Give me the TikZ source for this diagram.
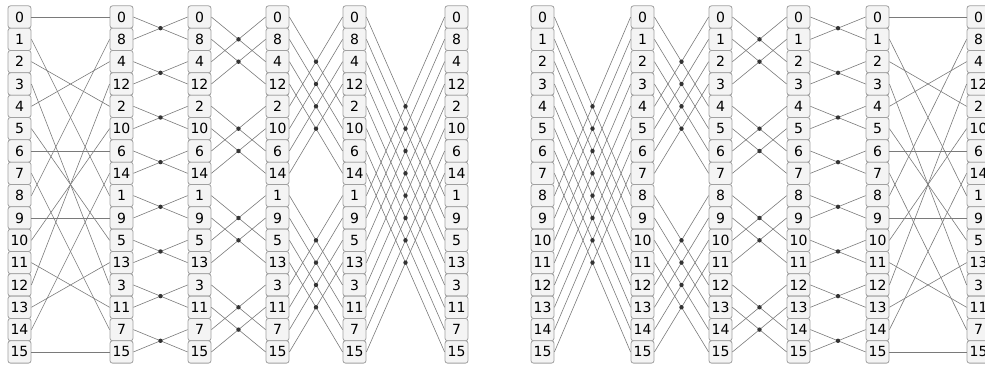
\documentclass[tikz,border=0pt]{standalone}
\usepackage{fontspec}
\setmainfont{DejaVu Sans}
\usepackage{tikz}
\usetikzlibrary{calc}
\definecolor{cellbg}{HTML}{F4F4F4}
\definecolor{cellrim}{HTML}{A0A0A0}
\definecolor{wire}{HTML}{7A7A7A}
\definecolor{joint}{HTML}{333333}
\tikzset{cell/.style={draw=cellrim,line width=0.8pt,fill=cellbg,rounded corners=2.5pt,minimum width=23pt,minimum height=22.33pt,inner sep=0pt,font=\fontsize{14}{15}\selectfont},
  link/.style={wire,line width=0.6pt}, jnt/.style={fill=joint}}
% a column of 16 cells: name, x, labels
\newcommand{\stack}[3]{\foreach \lab [count=\rw from 0] in {#3} {\node[cell] (#1-\rw) at (#2,17+22.33*\rw) {\lab};}}
% bit reversal wiring
\newcommand{\swap}[2]{\foreach \i/\j in {0/0,1/8,2/4,3/12,4/2,5/10,6/6,7/14,8/1,9/9,10/5,11/13,12/3,13/11,14/7,15/15}
  {\draw[link] (#1-\i.east) -- (#2-\j.west);}}
% butterflies of span #3
\newcommand{\bfly}[3]{\pgfmathtruncatemacro{\nb}{8/#3}\pgfmathtruncatemacro{\dm}{#3-1}
  \foreach \blk in {1,...,\nb} {\foreach \kk in {0,...,\dm} {
    \pgfmathtruncatemacro{\ra}{(\blk-1)*2*#3+\kk}\pgfmathtruncatemacro{\rb}{\ra+#3}
    \draw[link] (#1-\ra.east) -- (#2-\rb.west);
    \draw[link] (#1-\rb.east) -- (#2-\ra.west);
    \fill[jnt] ($(#1-\ra.east)!0.5!(#2-\rb.west)$) circle (2.2pt);}}}

\begin{document}
\begin{tikzpicture}[x=1pt,y=-1pt]
\useasboundingbox (0,0) rectangle (985,365);
% left: reorder, then butterflies
\stack{L1}{19.5}{0,...,15}
\stack{L2}{121.5}{0,8,4,12,2,10,6,14,1,9,5,13,3,11,7,15}
\stack{L3}{199.5}{0,8,4,12,2,10,6,14,1,9,5,13,3,11,7,15}
\stack{L4}{277.5}{0,8,4,12,2,10,6,14,1,9,5,13,3,11,7,15}
\stack{L5}{354.5}{0,8,4,12,2,10,6,14,1,9,5,13,3,11,7,15}
\stack{L6}{456.5}{0,8,4,12,2,10,6,14,1,9,5,13,3,11,7,15}
\swap{L1}{L2}
\bfly{L2}{L3}{1} \bfly{L3}{L4}{2} \bfly{L4}{L5}{4} \bfly{L5}{L6}{8}
% right: butterflies, then reorder
\stack{R1}{542.5}{0,...,15}
\stack{R2}{642.5}{0,...,15}
\stack{R3}{720.5}{0,...,15}
\stack{R4}{798.5}{0,...,15}
\stack{R5}{877.5}{0,...,15}
\stack{R6}{978.5}{0,8,4,12,2,10,6,14,1,9,5,13,3,11,7,15}
\bfly{R1}{R2}{8} \bfly{R2}{R3}{4} \bfly{R3}{R4}{2} \bfly{R4}{R5}{1}
\swap{R5}{R6}
\end{tikzpicture}
\end{document}
